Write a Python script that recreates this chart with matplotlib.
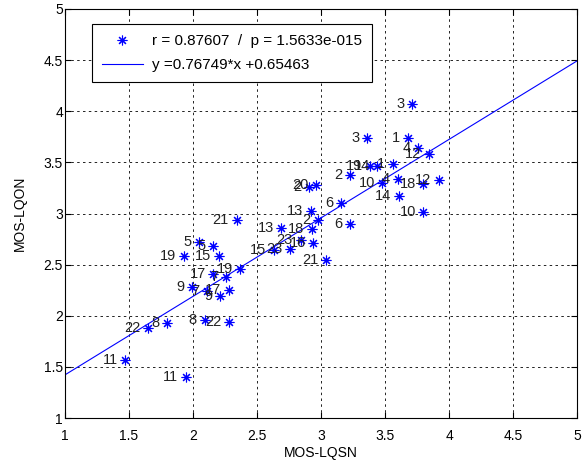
import matplotlib.pyplot as plt

plt.rcParams['font.family'] = ['Liberation Sans', 'DejaVu Sans']

# MOS values per condition (x: LQSN, y: LQON) and the condition ids
mos_lqsn = [3.71, 3.36, 3.68, 3.76, 3.60, 3.84, 3.92, 3.23, 2.91, 3.48,
            3.80, 3.61, 3.80, 3.38, 3.44, 3.56, 2.96, 3.16, 3.23, 2.92,
            2.98, 2.34, 2.69, 2.93, 2.84, 2.94, 2.63, 2.76, 3.04, 2.05,
            2.16, 2.20, 1.93, 2.37, 2.16, 2.26, 1.99, 2.11, 2.28, 2.21,
            1.65, 1.80, 2.09, 2.28, 1.47, 1.945]
mos_lqon = [4.07, 3.735, 3.74, 3.64, 3.34, 3.58, 3.33, 3.38, 3.26, 3.30,
            3.29, 3.17, 3.01, 3.46, 3.46, 3.48, 3.28, 3.10, 2.90, 3.02,
            2.94, 2.94, 2.86, 2.85, 2.74, 2.71, 2.64, 2.65, 2.55, 2.72,
            2.68, 2.58, 2.58, 2.46, 2.41, 2.38, 2.28, 2.24, 2.25, 2.19,
            1.88, 1.93, 1.96, 1.94, 1.57, 1.40]
cond_id = ['3', '3', '1', '4', '4', '12', '12', '2', '2', '10',
           '18', '14', '10', '19', '14', '1', '20', '6', '6', '13',
           '2', '21', '13', '18', '23', '16', '15', '23', '21', '5',
           '5', '15', '19', '19', '17', '7', '9', '7', '17', '9',
           '22', '8', '8', '22', '11', '11']

r_val = 0.87607
p_val = '1.5633e-015'
slope = 0.76749
intercept = 0.65463

fig = plt.figure(figsize=(5.88, 4.63), dpi=100)
ax = fig.add_axes([65 / 588, 45 / 463, 512 / 588, 409 / 463])

# MATLAB-like asterisk: 8 spokes
ax.plot(mos_lqsn, mos_lqon, linestyle='none', marker=(8, 2, 0), color='blue',
        markersize=7, markeredgewidth=0.8,
        label='r = %.5f  /  p = %s' % (r_val, p_val))
fit_x = [1, 5]
fit_y = [slope * v + intercept for v in fit_x]
ax.plot(fit_x, fit_y, '-', color='blue', linewidth=0.8,
        label='y =%.5f*x +%.5f' % (slope, intercept))

for xv, yv, name in zip(mos_lqsn, mos_lqon, cond_id):
    ax.annotate(name, (xv, yv), xytext=(-5.5, 0), textcoords='offset points',
                ha='right', va='center', fontsize=10.5, color='#222222')

ticks = [1, 1.5, 2, 2.5, 3, 3.5, 4, 4.5, 5]
tick_text = ['1', '1.5', '2', '2.5', '3', '3.5', '4', '4.5', '5']
ax.set_xlim(1, 5)
ax.set_ylim(1, 5)
ax.set_xticks(ticks)
ax.set_yticks(ticks)
ax.set_xticklabels(tick_text)
ax.set_yticklabels(tick_text)
ax.tick_params(direction='in', top=True, right=True, labelsize=10, length=4)
ax.tick_params(axis='x', pad=8)
ax.tick_params(axis='y', pad=1.5)
ax.grid(True, linestyle=(0, (3, 4)), color='black', linewidth=0.6)
for s in ax.spines.values():
    s.set_linewidth(0.8)

ax.set_xlabel('MOS-LQSN', fontsize=10, labelpad=2)
ax.set_ylabel('MOS-LQON', fontsize=10, labelpad=12)

leg = ax.legend(loc='upper left', bbox_to_anchor=(0.052, 0.963), fontsize=11,
                fancybox=False, framealpha=1, edgecolor='black',
                borderaxespad=0, handlelength=2.7, handletextpad=0.6,
                borderpad=0.65, labelspacing=0.65)
leg.get_frame().set_linewidth(0.8)

fig.savefig('out.png', dpi=100)
